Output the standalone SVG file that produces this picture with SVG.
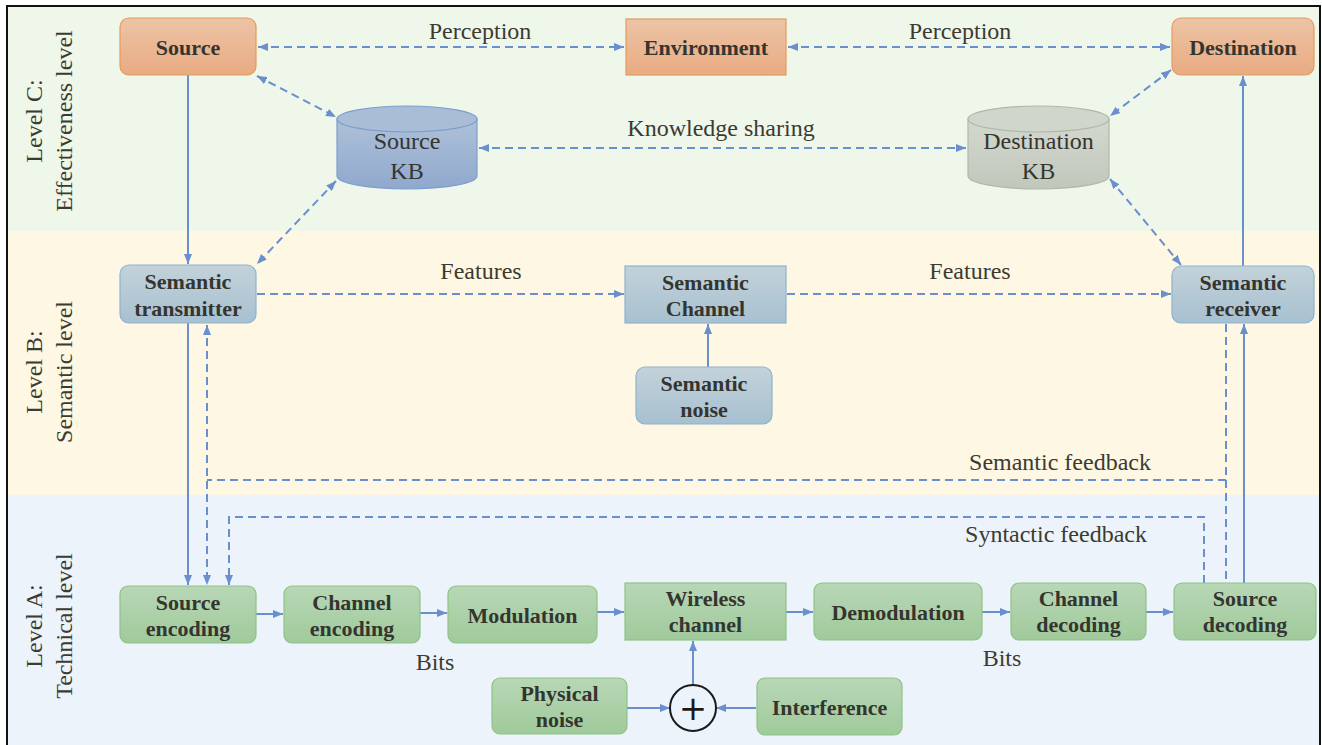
<svg xmlns="http://www.w3.org/2000/svg" width="1322" height="745" viewBox="0 0 1322 745">
<style>
.lbl{font-family:"Liberation Serif","Times New Roman",serif;font-size:24px;fill:#3b3b30}
.nt{font-family:"Liberation Serif","Times New Roman",serif;font-size:22px;font-weight:bold;fill:#353530;text-anchor:middle}
.kt{font-family:"Liberation Serif","Times New Roman",serif;font-size:24px;fill:#353530;text-anchor:middle}
.lvl{font-family:"Liberation Serif","Times New Roman",serif;font-size:24px;fill:#3b3b30;text-anchor:middle}
.c{fill:none;stroke:#6a8fcf;stroke-width:2}
.d{fill:none;stroke:#6a8fcf;stroke-width:2;stroke-dasharray:8,5}
.b{marker-end:url(#ah)}
.bb{marker-start:url(#ah);marker-end:url(#ah)}
.or{fill:url(#gOr);stroke:#e49b5c;stroke-width:1.2}
.se{fill:url(#gSe);stroke:#8db3cf;stroke-width:1.2}
.gr{fill:url(#gGr);stroke:#8ec386;stroke-width:1.2}
</style>
<defs>
<linearGradient id="gOr" x1="0" y1="0" x2="0" y2="1"><stop offset="0" stop-color="#ecc4a6"/><stop offset="1" stop-color="#e9ab82"/></linearGradient>
<linearGradient id="gSe" x1="0" y1="0" x2="0" y2="1"><stop offset="0" stop-color="#c3d2da"/><stop offset="1" stop-color="#a7c0d0"/></linearGradient>
<linearGradient id="gGr" x1="0" y1="0" x2="0" y2="1"><stop offset="0" stop-color="#b8d7b6"/><stop offset="1" stop-color="#a0ca9b"/></linearGradient>
<linearGradient id="gKb" x1="0" y1="0" x2="0" y2="1"><stop offset="0" stop-color="#aec1d9"/><stop offset="1" stop-color="#8fa8cd"/></linearGradient>
<linearGradient id="gDk" x1="0" y1="0" x2="0" y2="1"><stop offset="0" stop-color="#d4d9d0"/><stop offset="1" stop-color="#c0c7bb"/></linearGradient>
<marker id="ah" viewBox="0 0 10 8" refX="10" refY="4" markerWidth="10" markerHeight="8" markerUnits="userSpaceOnUse" orient="auto-start-reverse"><path d="M0,0 L10,4 L0,8 Z" fill="#6a8fcf"/></marker>
</defs>

<!-- bands -->
<g id="bands">
<rect x="7" y="7" width="1313" height="224" fill="#eff6ea"/>
<rect x="7" y="231" width="1313" height="264" fill="#fef7e4"/>
<rect x="7" y="495" width="1313" height="250" fill="#ecf3fa"/>
<rect x="7" y="6" width="1313" height="742" fill="none" stroke="#111" stroke-width="2"/>
</g>

<g id="level-labels">
<text class="lvl" transform="translate(42,121) rotate(-90)">Level C:</text>
<text class="lvl" transform="translate(72,121) rotate(-90)">Effectiveness level</text>
<text class="lvl" transform="translate(42,372) rotate(-90)">Level B:</text>
<text class="lvl" transform="translate(72,372) rotate(-90)">Semantic level</text>
<text class="lvl" transform="translate(42,626) rotate(-90)">Level A:</text>
<text class="lvl" transform="translate(72,626) rotate(-90)">Technical level</text>
</g>

<!-- connectors -->
<g id="connectors">
<line class="d bb" x1="258" y1="47" x2="624" y2="47"/>
<line class="d bb" x1="788" y1="47" x2="1170" y2="47"/>
<line class="d bb" x1="257" y1="76" x2="336" y2="117"/>
<line class="d bb" x1="336" y1="181" x2="257" y2="264"/>
<line class="d bb" x1="479" y1="148" x2="966" y2="148"/>
<line class="d bb" x1="1171" y1="70" x2="1110" y2="116"/>
<line class="d bb" x1="1110" y1="179" x2="1181" y2="265"/>
<line class="c b" x1="188" y1="75" x2="188" y2="264"/>
<line class="c b" x1="188" y1="323" x2="188" y2="585"/>
<line class="d b" x1="257" y1="294" x2="624" y2="294"/>
<line class="d b" x1="787" y1="294" x2="1171" y2="294"/>
<line class="c b" x1="708" y1="367" x2="708" y2="324"/>
<path class="d" d="M1226,324 V583"/>
<path class="d" d="M1226,480 H207"/>
<line class="d bb" x1="207" y1="325" x2="207" y2="585"/>
<path class="d b" d="M1204,583 V517 H229 V585"/>
<line class="c b" x1="256" y1="614" x2="283" y2="614"/>
<line class="c b" x1="420" y1="613" x2="447" y2="613"/>
<line class="c b" x1="597" y1="612" x2="624" y2="612"/>
<line class="c b" x1="786" y1="612" x2="813" y2="612"/>
<line class="c b" x1="982" y1="612" x2="1010" y2="612"/>
<line class="c b" x1="1146" y1="612" x2="1173" y2="612"/>
<line class="c b" x1="1244" y1="583" x2="1244" y2="324"/>
<line class="c b" x1="1243" y1="266" x2="1243" y2="76"/>
<line class="c b" x1="627" y1="708" x2="670" y2="708"/>
<line class="c b" x1="756" y1="708" x2="716" y2="708"/>
<line class="c b" x1="693" y1="685" x2="693" y2="641"/>
</g>

<g id="connector-labels">
<text class="lbl" x="480" y="39" text-anchor="middle">Perception</text>
<text class="lbl" x="960" y="39" text-anchor="middle">Perception</text>
<text class="lbl" x="721" y="136" text-anchor="middle">Knowledge sharing</text>
<text class="lbl" x="481" y="279" text-anchor="middle">Features</text>
<text class="lbl" x="970" y="279" text-anchor="middle">Features</text>
<text class="lbl" x="1060" y="470" text-anchor="middle">Semantic feedback</text>
<text class="lbl" x="1056" y="542" text-anchor="middle">Syntactic feedback</text>
<text class="lbl" x="435" y="670" text-anchor="middle">Bits</text>
<text class="lbl" x="1002" y="666" text-anchor="middle">Bits</text>
</g>

<!-- Level C nodes -->
<g id="source"><rect class="or" x="120" y="18" width="136" height="57" rx="9"/><text class="nt" x="188" y="55">Source</text></g>
<g id="environment"><rect class="or" x="626" y="19" width="160" height="56"/><text class="nt" x="706" y="55">Environment</text></g>
<g id="destination"><rect class="or" x="1172" y="18" width="142" height="57" rx="9"/><text class="nt" x="1243" y="55">Destination</text></g>
<g id="source-kb">
<path d="M337,119 V176 A70,13 0 0 0 477,176 V119 Z" fill="url(#gKb)" stroke="#7b9fcf" stroke-width="1.2"/>
<ellipse cx="407" cy="119" rx="70" ry="13" fill="#aabdd7" stroke="#7b9fcf" stroke-width="1.2"/>
<text class="kt" x="407" y="149">Source</text><text class="kt" x="407" y="179">KB</text>
</g>
<g id="destination-kb">
<path d="M968,119 V176 A70.5,13 0 0 0 1109,176 V119 Z" fill="url(#gDk)" stroke="#b0b8aa" stroke-width="1.2"/>
<ellipse cx="1038.5" cy="119" rx="70.5" ry="13" fill="#d1d6cd" stroke="#b0b8aa" stroke-width="1.2"/>
<text class="kt" x="1038.5" y="149">Destination</text><text class="kt" x="1038.5" y="179">KB</text>
</g>

<!-- Level B nodes -->
<g id="semantic-transmitter"><rect class="se" x="120" y="265" width="136" height="58" rx="9"/><text class="nt" x="188" y="289">Semantic</text><text class="nt" x="188" y="316">transmitter</text></g>
<g id="semantic-channel"><rect class="se" x="625" y="266" width="161" height="57"/><text class="nt" x="705.5" y="290">Semantic</text><text class="nt" x="705.5" y="316">Channel</text></g>
<g id="semantic-noise"><rect class="se" x="636" y="367" width="136" height="57" rx="9"/><text class="nt" x="704" y="391">Semantic</text><text class="nt" x="704" y="417">noise</text></g>
<g id="semantic-receiver"><rect class="se" x="1172" y="266" width="142" height="57" rx="9"/><text class="nt" x="1243" y="290">Semantic</text><text class="nt" x="1243" y="316">receiver</text></g>

<!-- Level A nodes -->
<g id="source-encoding"><rect class="gr" x="120" y="586" width="136" height="57" rx="8"/><text class="nt" x="188" y="610">Source</text><text class="nt" x="188" y="636">encoding</text></g>
<g id="channel-encoding"><rect class="gr" x="284" y="586" width="136" height="57" rx="8"/><text class="nt" x="352" y="610">Channel</text><text class="nt" x="352" y="636">encoding</text></g>
<g id="modulation"><rect class="gr" x="448" y="586" width="149" height="57" rx="8"/><text class="nt" x="522.5" y="623">Modulation</text></g>
<g id="wireless-channel"><rect class="gr" x="625" y="583" width="161" height="57"/><text class="nt" x="705.5" y="606">Wireless</text><text class="nt" x="705.5" y="632">channel</text></g>
<g id="demodulation"><rect class="gr" x="814" y="583" width="168" height="57" rx="8"/><text class="nt" x="898" y="620">Demodulation</text></g>
<g id="channel-decoding"><rect class="gr" x="1011" y="583" width="135" height="57" rx="8"/><text class="nt" x="1078.5" y="606">Channel</text><text class="nt" x="1078.5" y="632">decoding</text></g>
<g id="source-decoding"><rect class="gr" x="1174" y="583" width="142" height="57" rx="8"/><text class="nt" x="1245" y="606">Source</text><text class="nt" x="1245" y="632">decoding</text></g>
<g id="physical-noise"><rect class="gr" x="492" y="678" width="135" height="56" rx="8"/><text class="nt" x="559.5" y="701">Physical</text><text class="nt" x="559.5" y="727">noise</text></g>
<g id="interference"><rect class="gr" x="757" y="678" width="145" height="57" rx="8"/><text class="nt" x="829.5" y="715">Interference</text></g>
<g id="adder"><circle cx="693" cy="708" r="23" fill="#ecf3fa" stroke="#1a1a1a" stroke-width="2"/><text x="693" y="720" text-anchor="middle" style="font-family:'DejaVu Sans',sans-serif;font-size:34px;fill:#1a1a1a">+</text></g>
</svg>
